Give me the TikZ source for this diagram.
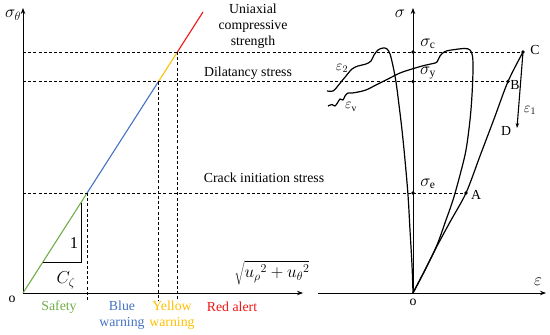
\documentclass[tikz,border=0pt]{standalone}
\usepackage{fontspec}
\setmainfont{Liberation Serif}
\usetikzlibrary{arrows.meta}
\definecolor{cgreen}{RGB}{112,173,71}
\definecolor{cblue}{RGB}{68,114,196}
\definecolor{cyellow}{RGB}{255,192,0}
\definecolor{cred}{RGB}{240,20,20}
\begin{document}
\begin{tikzpicture}[x=1pt,y=-1pt,
  font=\fontsize{13.8}{16}\selectfont,
  axis/.style={line width=0.8pt,-{Stealth[length=6pt,width=4.5pt]}},
  dline/.style={line width=0.7pt,dash pattern=on 3pt off 2.2pt},
  curve/.style={line width=1.2pt,line join=round},
  zone/.style={line width=1.1pt},
  dot/.style={circle,fill,inner sep=0pt,minimum size=3.6pt},
  lbl/.style={inner sep=0pt},
  big/.style={inner sep=0pt,font=\fontsize{16.5}{18}\selectfont}]
\useasboundingbox (0,0) rectangle (550,335);

% ---------- left panel ----------
\coordinate (O1) at (23,293);
\coordinate (Ytop) at (23,8);
\coordinate (Xend) at (303,293);
\coordinate (G) at (87.1,193);
\coordinate (Bl) at (158.5,81.5);
\coordinate (Yl) at (177.4,52);
\coordinate (R) at (203,12);
\coordinate (Gb) at (87.1,300);
\coordinate (Blb) at (158.5,300);
\coordinate (Ylb) at (177.4,300);
\coordinate (T1) at (42.9,262);
\coordinate (T2) at (81,262);
\coordinate (T3) at (81,202.5);

\draw[axis] (O1) -- (Ytop);
\draw[axis] (O1) -- (Xend);

\draw[zone,cgreen] (O1) -- (G);
\draw[zone,cblue] (G) -- (Bl);
\draw[zone,cyellow] (Bl) -- (Yl);
\draw[zone,cred] (Yl) -- (R);

\draw[dline] (G) -- (Gb);
\draw[dline] (Bl) -- (Blb);
\draw[dline] (Yl) -- (Ylb);

\draw[line width=0.8pt] (T1) -- (T2) -- (T3);

\node[big] (st) at (13,15) {$\sigma_{\theta}$};
\node[lbl] (o1) at (12,299) {o};
\node[big] (one) at (74,243) {1};
\node[big] (cz) at (66,280) {$C_{\zeta}$};
\node[big] (sq) at (272,273) {$\sqrt{{u_{\rho}}^{2}+{u_{\theta}}^{2}}$};

\node[lbl,cgreen] (safe) at (59,307) {Safety};
\node[lbl,cblue,align=center] (bw) at (122,315) {Blue\\warning};
\node[lbl,cyellow,align=center] (yw) at (172,315) {Yellow\\warning};
\node[lbl,cred] (ra) at (232,307) {Red alert};

\node[lbl,align=center] (ucs) at (253,26) {Uniaxial\\compressive\\strength};
\node[lbl] (dil) at (248,73) {Dilatancy stress};
\node[lbl] (cis) at (264,178) {Crack initiation stress};

% ---------- right panel ----------
\coordinate (O2) at (413,293);
\coordinate (Stop) at (413,8);
\coordinate (Eleft) at (318,293);
\coordinate (Eend) at (546,293);
\coordinate (Sc) at (413,52);
\coordinate (Sy) at (413,81.5);
\coordinate (Se) at (413,193);
\coordinate (C) at (523,52);
\coordinate (B) at (508,81.5);
\coordinate (A) at (466,193);
\coordinate (D) at (517,128);

\draw[axis] (O2) -- (Stop);
\draw[axis] (Eleft) -- (Eend);

% dashed levels (shared by both panels)
\draw[dline] (23,52) -- (C);
\draw[dline] (23,81.5) -- (B);
\draw[dline] (23,193) -- (A);

% epsilon_2 curve
\draw[curve] plot[smooth,tension=0.55] coordinates {
 (327,91) (333,91) (337,87) (341,82) (346,76) (352,69) (358,66) (366,64)
 (371,61) (374,55) (378,50) (383,48) (387,49) (390,54) (393,66) (396,82)
 (399,105) (402,130) (405,160) (408,195) (410,230) (412,265) (O2)};

% epsilon_v curve
\draw[curve] plot[smooth,tension=0.55] coordinates {
 (328,106) (332,104.5) (335,106) (338,102) (340,99) (343,100) (345,96)
 (348,93) (352,93) (358,92) (366,90) (376,85) (388,79) (400,73) (412,69)
 (424,65.5) (433,63.5) (437,62) (440,56) (445,51.5) (455,49.5) (465,48.5)
 (470,50) (472.5,56) (473,70) (472,95) (470,120) (466,150) (460,175)
 (453,200) (446,220) (437,245) (426,268) (O2)};

% epsilon_1 curve O-A-B-C
\draw[curve] plot[smooth,tension=0.5] coordinates {
 (O2) (424,272) (436,248) (450,222) (A) (480,156) (494,119) (B) (C)};

\draw[line width=1.1pt,-{Stealth[length=5pt,width=3.5pt]}] (C) -- (D);

\node[dot] at (Sc) {};
\node[dot] at (Sy) {};
\node[dot] at (Se) {};
\node[dot] at (C) {};
\node[dot] at (B) {};
\node[dot] at (A) {};

\node[big] (sig) at (400,14) {$\sigma$};
\node[big] (eps) at (538,282) {$\varepsilon$};
\node[lbl] (o2) at (413,302) {o};
\node[big] (lsc) at (428,44) {$\sigma_{\mathrm{c}}$};
\node[big] (lsy) at (428,73) {$\sigma_{\mathrm{y}}$};
\node[big] (lse) at (428,184) {$\sigma_{\mathrm{e}}$};
\node[lbl] (lC) at (535,50) {C};
\node[lbl] (lB) at (515,85) {B};
\node[lbl] (lA) at (476,195) {A};
\node[lbl] (lD) at (506,131) {D};
\node[lbl] (le1) at (530,110) {$\varepsilon_{1}$};
\node[lbl] (le2) at (342,68) {$\varepsilon_{2}$};
\node[lbl] (lev) at (351,107) {$\varepsilon_{\mathrm{v}}$};
\end{tikzpicture}
\end{document}
